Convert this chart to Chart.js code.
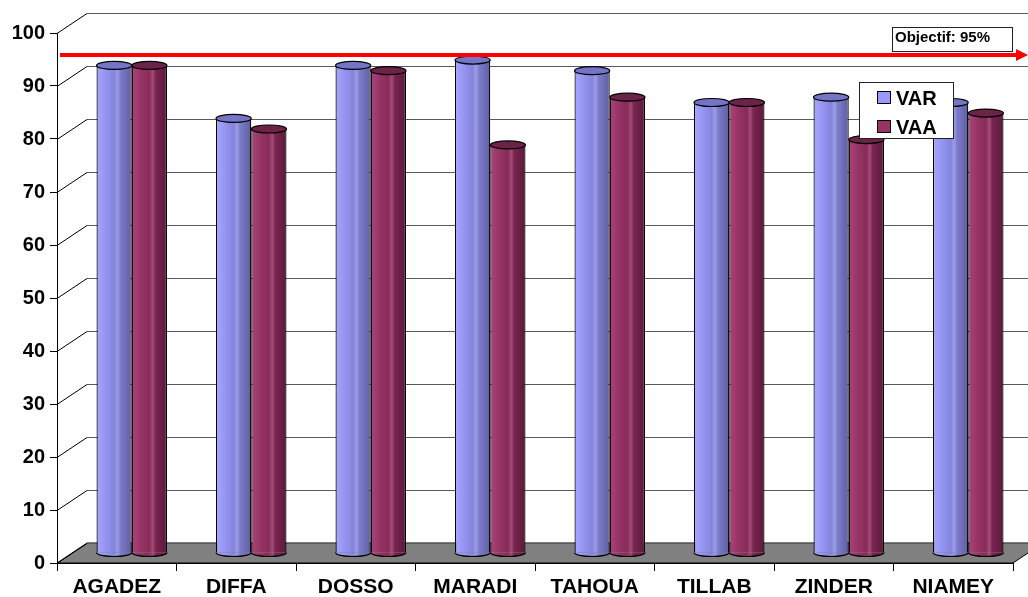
<!DOCTYPE html>
<html><head><meta charset="utf-8">
<script src="https://cdn.jsdelivr.net/npm/chart.js@4.4.0/dist/chart.umd.min.js"></script>
<style>html,body{margin:0;padding:0;background:#fff;}#wrap{width:1028px;height:597px;}</style>
</head><body>
<div id="wrap"><canvas id="c" width="1028" height="597"></canvas></div>
<script>
// ---- data ----
const categories = ['AGADEZ', 'DIFFA', 'DOSSO', 'MARADI', 'TAHOUA', 'TILLAB', 'ZINDER', 'NIAMEY'];
const varValues = [92, 82, 92, 93, 91, 85, 86, 85];
const vaaValues = [92, 80, 91, 77, 86, 85, 78, 83];
const seriesNames = ['VAR', 'VAA'];
const yTickValues = [0, 10, 20, 30, 40, 50, 60, 70, 80, 90, 100];
const objectiveValue = 95;
const objectiveLabel = 'Objectif: 95%';

// ---- styling ----
const FONT = 'Arial, "Liberation Sans", sans-serif';
const DX = 30, DY = 20;          // full depth of the 3D box
const BDX = 15, BDY = 10;        // bars sit at mid depth
const RY = 4;                    // ellipse half height
const CAT_PCT = 0.59;
const palettes = [
  { legend: '#9999FF', top: '#7575C8',
    stops: [[0, '#A6A6FF'], [0.25, '#9696F2'], [0.5, '#8484DC'], [0.6, '#9C9CE8'], [0.68, '#7C7CCC'], [1, '#5E5EA0']] },
  { legend: '#993366', top: '#6B2347',
    stops: [[0, '#AA447C'], [0.25, '#973566'], [0.5, '#882B59'], [0.6, '#A44C78'], [0.68, '#7A2450'], [1, '#5A1A3B']] }
];

function bodyGradient(ctx, cx, w, pal) {
  const g = ctx.createLinearGradient(cx - w / 2, 0, cx + w / 2, 0);
  pal.stops.forEach(s => g.addColorStop(s[0], s[1]));
  return g;
}
function scriptBg(c) {
  const chart = c.chart;
  const pal = palettes[c.datasetIndex];
  const xs = chart.scales && chart.scales.x;
  if (!chart.chartArea || !xs || c.dataIndex === undefined) return pal.legend;
  const w = (xs.width / categories.length) * CAT_PCT / 2;
  const cx = xs.getPixelForValue(c.dataIndex) + (c.datasetIndex - 0.5) * w;
  return bodyGradient(chart.ctx, cx, w, pal);
}

const threeD = {
  id: 'threeD',
  beforeDatasetsDraw(chart) {
    const { ctx, chartArea: a, scales: { y } } = chart;
    ctx.save();
    const y0 = y.getPixelForValue(0);
    // floor
    ctx.beginPath();
    ctx.moveTo(a.left, y0); ctx.lineTo(a.left + DX, y0 - DY);
    ctx.lineTo(a.right + DX, y0 - DY); ctx.lineTo(a.right, y0); ctx.closePath();
    ctx.fillStyle = '#808080'; ctx.fill();
    ctx.strokeStyle = '#000'; ctx.lineWidth = 1; ctx.stroke();
    // back wall grid + side diagonals
    yTickValues.forEach(v => {
      const py = Math.round(y.getPixelForValue(v)) + 0.5;
      ctx.beginPath();
      ctx.moveTo(a.left, py); ctx.lineTo(a.left + DX, py - DY);
      ctx.strokeStyle = '#000'; ctx.lineWidth = 1; ctx.stroke();
      ctx.beginPath();
      ctx.moveTo(a.left + DX, py - DY); ctx.lineTo(chart.width, py - DY);
      ctx.strokeStyle = '#5a5a5a'; ctx.lineWidth = 1.2; ctx.stroke();
    });
    ctx.restore();
    ctx.save();
    ctx.translate(BDX, -BDY);
  },
  afterDatasetsDraw(chart) {
    const ctx = chart.ctx;
    chart.data.datasets.forEach((ds, di) => {
      const pal = palettes[di];
      chart.getDatasetMeta(di).data.forEach(el => {
        const w = el.width, x = el.x;
        // bottom half ellipse
        ctx.beginPath();
        ctx.ellipse(x, el.base, w / 2, RY, 0, 0, Math.PI);
        ctx.fillStyle = bodyGradient(ctx, x, w, pal); ctx.fill();
        ctx.strokeStyle = '#000'; ctx.lineWidth = 1.2; ctx.stroke();
        // top ellipse
        ctx.beginPath();
        ctx.ellipse(x, el.y, w / 2, RY, 0, 0, Math.PI * 2);
        ctx.fillStyle = pal.top; ctx.fill();
        ctx.strokeStyle = '#000'; ctx.lineWidth = 1.2; ctx.stroke();
      });
    });
    ctx.restore();
  },
  afterDraw(chart) {
    const { ctx, scales: { y } } = chart;
    ctx.save();
    // objective arrow line
    const oy = y.getPixelForValue(objectiveValue) - 4.5;
    ctx.strokeStyle = '#FF0000'; ctx.lineWidth = 4;
    ctx.beginPath(); ctx.moveTo(60, oy); ctx.lineTo(1018, oy); ctx.stroke();
    ctx.fillStyle = '#FF0000';
    ctx.beginPath(); ctx.moveTo(1016, oy - 6); ctx.lineTo(1028, oy); ctx.lineTo(1016, oy + 6); ctx.closePath(); ctx.fill();
    // objective label
    ctx.fillStyle = '#fff'; ctx.fillRect(892.5, 27.5, 120, 24);
    ctx.strokeStyle = '#222'; ctx.lineWidth = 1; ctx.strokeRect(892.5, 27.5, 120, 24);
    ctx.fillStyle = '#000'; ctx.font = 'bold 15px ' + FONT; ctx.textBaseline = 'alphabetic'; ctx.textAlign = 'left';
    ctx.fillText(objectiveLabel, 895, 42);
    // legend
    ctx.fillStyle = '#fff'; ctx.fillRect(859.5, 82.5, 94, 56);
    ctx.strokeStyle = '#222'; ctx.strokeRect(859.5, 82.5, 94, 56);
    ctx.font = 'bold 20px ' + FONT;
    chart.data.datasets.forEach((ds, i) => {
      const ty = 91.5 + i * 29;
      ctx.fillStyle = palettes[i].legend; ctx.fillRect(877.5, ty, 13, 12);
      ctx.strokeStyle = '#000'; ctx.lineWidth = 1; ctx.strokeRect(877.5, ty, 13, 12);
      ctx.fillStyle = '#000';
      ctx.fillText(ds.label, 896, ty + 13);
    });
    ctx.restore();
  }
};

const barBorder = { left: 1.2, right: 1.2, top: 0, bottom: 0 };
new Chart(document.getElementById('c'), {
  type: 'bar',
  data: {
    labels: categories,
    datasets: [
      { label: seriesNames[0], data: varValues, backgroundColor: scriptBg, borderColor: '#000', borderWidth: barBorder, borderSkipped: false, clip: false },
      { label: seriesNames[1], data: vaaValues, backgroundColor: scriptBg, borderColor: '#000', borderWidth: barBorder, borderSkipped: false, clip: false }
    ]
  },
  options: {
    responsive: false, animation: false, devicePixelRatio: 1,
    categoryPercentage: CAT_PCT, barPercentage: 1,
    layout: { padding: { left: 0, right: 15, top: 33, bottom: 0 } },
    plugins: { legend: { display: false }, tooltip: { enabled: false } },
    scales: {
      x: {
        ticks: { color: '#000', font: { family: FONT, size: 21, weight: 'bold' }, padding: 4, maxRotation: 0, autoSkip: false },
        grid: { drawOnChartArea: false, drawTicks: true, tickLength: 8, color: '#000', offset: true },
        border: { display: true, color: '#000', width: 1 },
        afterFit(s) { s.height = 34; }
      },
      y: {
        min: 0, max: 100,
        afterBuildTicks(s) { s.ticks = yTickValues.map(v => ({ value: v })); },
        ticks: { color: '#000', font: { family: FONT, size: 20, weight: 'bold' }, padding: 5 },
        grid: { drawOnChartArea: false, drawTicks: true, tickLength: 7, color: '#000' },
        border: { display: true, color: '#000', width: 1 },
        afterFit(s) { s.width = 57; }
      }
    }
  },
  plugins: [threeD]
});
</script>
</body></html>
